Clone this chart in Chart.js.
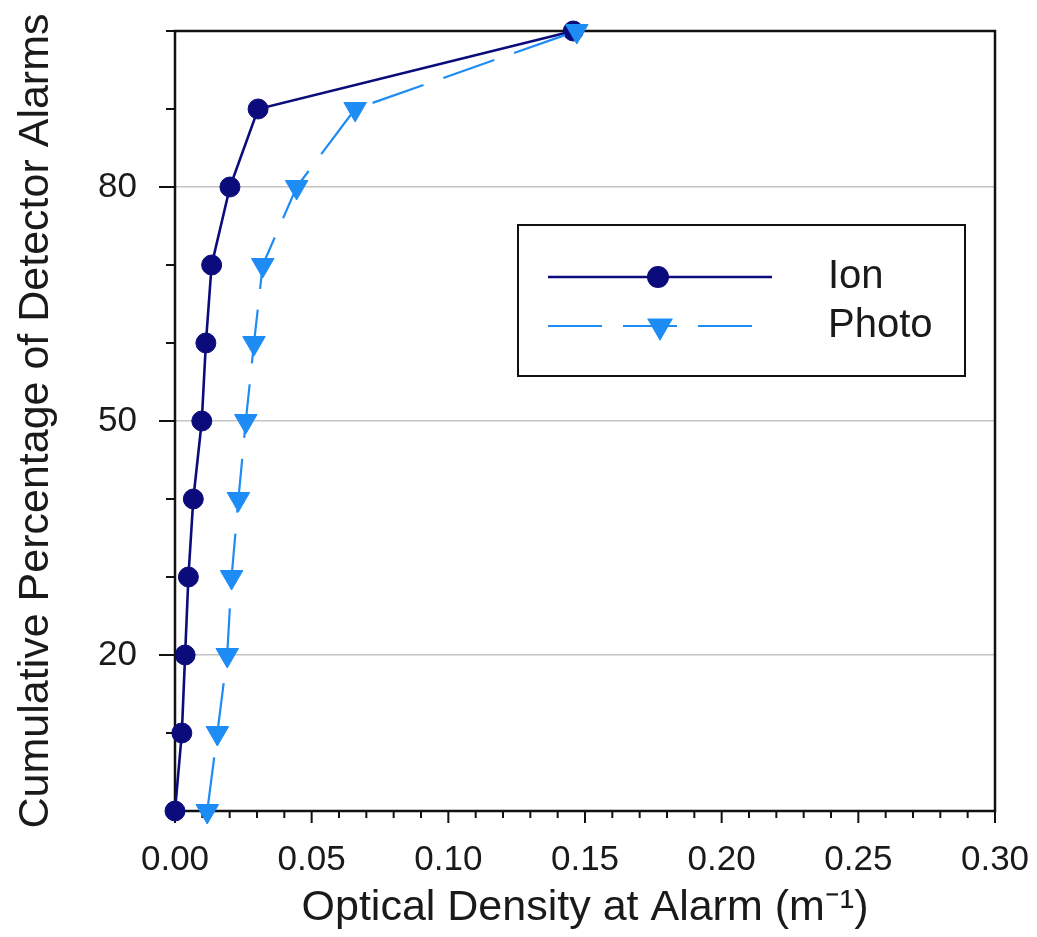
<!DOCTYPE html>
<html>
<head>
<meta charset="utf-8">
<title>Optical density at alarm</title>
<script src="https://cdn.jsdelivr.net/npm/chart.js@4.4.0/dist/chart.umd.min.js"></script>
<style>
    html, body { margin: 0; padding: 0; background: #fff; }
    canvas { display: block; }
</style>
</head>
<body>
<canvas id="alarmChart" width="1037" height="937"></canvas>
<script>
// Cumulative percentage of alarms and the optical density (1/m) reached at each step
const alarmPercent = [0, 10, 20, 30, 40, 50, 60, 70, 80, 90, 100];
const ionDensity   = [0.0000, 0.0025, 0.0037, 0.0049, 0.0067, 0.0098, 0.0113, 0.0134, 0.0201, 0.0304, 0.1457];
const photoDensity = [0.0118, 0.0155, 0.0191, 0.0207, 0.0232, 0.0259, 0.0289, 0.0321, 0.0445, 0.0659, 0.1470];

// Axis ticks: minor marks every 0.01 / 10 %, labels only on the major ones
const xTickValues = Array.from({length: 31}, (_, i) => i / 100);
const yTickValues = Array.from({length: 11}, (_, i) => i * 10);
const labeledPercents = [20, 50, 80];

const ionColor = '#0b0b7c';
const photoColor = '#1e8cf5';
const fontFamily = "'Liberation Sans', Arial, sans-serif";
const clear = 'rgba(0,0,0,0)';

function isMajorX(v) {
    return Math.round(v * 100) % 5 === 0;
}

function toPoints(xs) {
    return alarmPercent.map((p, i) => ({x: xs[i], y: p}));
}

// Frame round the plot and the outward tick marks (long on labelled ticks)
const frameAndTicks = {
    id: 'frameAndTicks',
    beforeDatasetsDraw(chart) {
        const {ctx, chartArea: a, scales: {x, y}} = chart;
        ctx.save();
        ctx.strokeStyle = '#111';
        ctx.lineWidth = 2;
        ctx.beginPath();
        x.ticks.forEach(t => {
            const px = x.getPixelForValue(t.value);
            ctx.moveTo(px, a.bottom);
            ctx.lineTo(px, a.bottom + (isMajorX(t.value) ? 12 : 7));
        });
        y.ticks.forEach(t => {
            const py = y.getPixelForValue(t.value);
            ctx.moveTo(a.left, py);
            ctx.lineTo(a.left - (labeledPercents.includes(t.value) ? 16 : 9), py);
        });
        ctx.stroke();
        ctx.lineWidth = 2.5;
        ctx.strokeRect(a.left, a.top, a.right - a.left, a.bottom - a.top);
        ctx.restore();
    }
};

// Boxed legend: sample line with the marker in the middle, name to the right
const boxLegend = {
    id: 'boxLegend',
    afterDraw(chart) {
        const ctx = chart.ctx;
        const box = {left: 518, top: 225, right: 965, bottom: 376};
        const rows = [
            {y: 277, lineEnd: 772, markX: 658},
            {y: 326, lineEnd: 752, markX: 660}
        ];
        ctx.save();
        ctx.fillStyle = '#fff';
        ctx.fillRect(box.left, box.top, box.right - box.left, box.bottom - box.top);
        ctx.strokeStyle = '#111';
        ctx.lineWidth = 2;
        ctx.strokeRect(box.left, box.top, box.right - box.left, box.bottom - box.top);

        chart.data.datasets.slice().reverse().forEach((ds, i) => {
            const row = rows[i];
            ctx.save();
            ctx.strokeStyle = ds.borderColor;
            ctx.lineWidth = ds.borderWidth;
            ctx.setLineDash(ds.borderDash || []);
            ctx.beginPath();
            ctx.moveTo(548, row.y);
            ctx.lineTo(row.lineEnd, row.y);
            ctx.stroke();
            ctx.restore();

            ctx.fillStyle = ds.pointBackgroundColor;
            ctx.strokeStyle = ds.pointBackgroundColor;
            Chart.helpers.drawPoint(ctx, {
                pointStyle: ds.pointStyle,
                rotation: ds.pointRotation || 0,
                radius: ds.pointRadius,
                borderWidth: 1
            }, row.markX, row.y);

            ctx.fillStyle = '#1a1a1a';
            ctx.font = '40px ' + fontFamily;
            ctx.textAlign = 'left';
            ctx.textBaseline = 'middle';
            ctx.fillText(ds.label, 828, row.y);
        });
        ctx.restore();
    }
};

new Chart(document.getElementById('alarmChart'), {
    type: 'line',
    data: {
        datasets: [
            {
                label: 'Photo',
                data: toPoints(photoDensity),
                borderColor: photoColor,
                backgroundColor: photoColor,
                pointBackgroundColor: photoColor,
                pointBorderColor: photoColor,
                borderWidth: 2.2,
                borderDash: [54, 21],
                pointStyle: 'triangle',
                pointRotation: 180,
                pointRadius: 13,
                pointBorderWidth: 1,
                tension: 0,
                order: 0
            },
            {
                label: 'Ion',
                data: toPoints(ionDensity),
                borderColor: ionColor,
                backgroundColor: ionColor,
                pointBackgroundColor: ionColor,
                pointBorderColor: ionColor,
                borderWidth: 2.6,
                pointStyle: 'circle',
                pointRadius: 10,
                pointBorderWidth: 1,
                tension: 0,
                order: 1
            }
        ]
    },
    options: {
        responsive: false,
        animation: false,
        events: [],
        clip: false,
        layout: {
            padding: {top: 31, right: 42, left: 0, bottom: 0}
        },
        plugins: {
            legend: {display: false},
            tooltip: {enabled: false}
        },
        scales: {
            x: {
                type: 'linear',
                min: 0,
                max: 0.3,
                afterBuildTicks: s => { s.ticks = xTickValues.map(v => ({value: v})); },
                afterFit: s => { s.height = 126; },
                border: {display: false},
                // invisible tick length only spaces the labels away from the axis
                grid: {drawOnChartArea: false, color: clear, tickColor: clear, tickLength: 28},
                ticks: {
                    autoSkip: false,
                    maxRotation: 0,
                    padding: 0,
                    color: '#1a1a1a',
                    font: {family: fontFamily, size: 35},
                    callback: v => isMajorX(v) ? v.toFixed(2) : ''
                },
                title: {
                    display: true,
                    text: 'Optical Density at Alarm (m\u207B\u00B9)',
                    color: '#1a1a1a',
                    font: {family: fontFamily, size: 43},
                    padding: {top: 0, bottom: 3}
                }
            },
            y: {
                type: 'linear',
                min: 0,
                max: 100,
                afterBuildTicks: s => { s.ticks = yTickValues.map(v => ({value: v})); },
                afterFit: s => { s.width = 175; },
                border: {display: false},
                grid: {
                    tickLength: 38,
                    tickColor: clear,
                    lineWidth: 1.5,
                    color: c => labeledPercents.includes(c.tick.value) ? '#c4c4c4' : clear
                },
                ticks: {
                    autoSkip: false,
                    padding: 0,
                    color: '#1a1a1a',
                    font: {family: fontFamily, size: 35},
                    callback: v => labeledPercents.includes(v) ? String(v) : ''
                },
                title: {
                    display: true,
                    text: 'Cumulative Percentage of Detector Alarms',
                    color: '#1a1a1a',
                    font: {family: fontFamily, size: 43},
                    padding: {top: 10, bottom: 0}
                }
            }
        }
    },
    plugins: [frameAndTicks, boxLegend]
});
</script>
</body>
</html>
